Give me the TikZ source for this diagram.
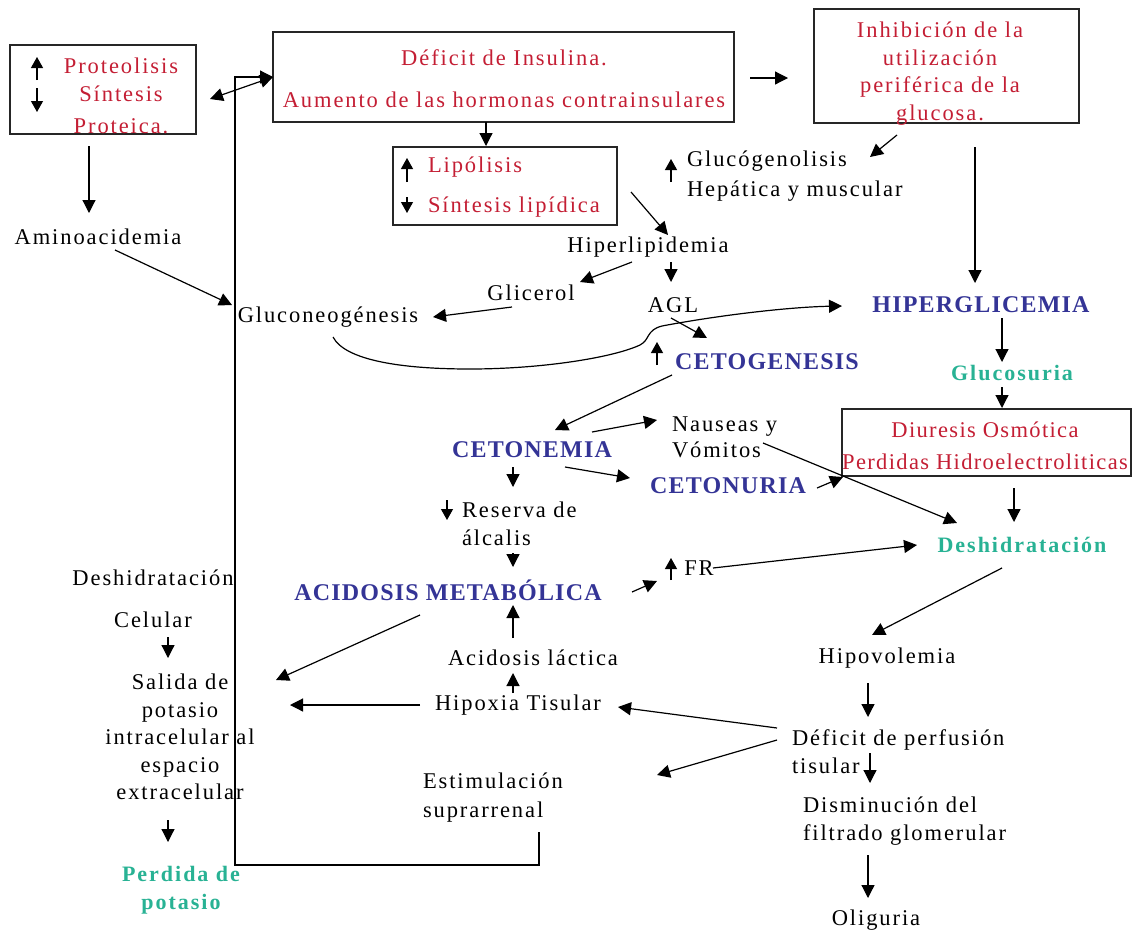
\documentclass[tikz,border=0pt]{standalone}
\usepackage{fontspec}
\setmainfont{Liberation Serif}[LetterSpace=8.5]
\newfontfamily\headfont{Liberation Serif}[LetterSpace=5]
\newfontfamily\tealfont{Liberation Serif}[LetterSpace=9]
\newfontfamily\tightfont{Liberation Serif}[LetterSpace=6]
\usetikzlibrary{arrows.meta,calc}
\definecolor{txtred}{RGB}{196,30,52}
\definecolor{txtblue}{RGB}{52,52,150}
\definecolor{txtteal}{RGB}{40,178,148}
\begin{document}
\begin{tikzpicture}[x=1pt,y=-1pt,
  every node/.style={inner sep=0pt,outer sep=0pt},
  boxframe/.style={draw=black!85,line width=1.3pt,minimum width=#1},
  txt/.style={font=\fontsize{22.5}{28}\selectfont,text=black},
  rtxt/.style={font=\fontsize{22.5}{28}\selectfont,text=txtred},
  btxt/.style={font=\headfont\bfseries\fontsize{24}{28}\selectfont,text=txtblue},
  gtxt/.style={font=\tealfont\bfseries\fontsize{22}{28}\selectfont,text=txtteal},
  arr/.style={line width=1.2pt,-{Triangle[length=13pt,width=13pt]}},
  darr/.style={line width=1.2pt,{Triangle[length=13pt,width=13pt]}-{Triangle[length=13pt,width=13pt]}},
  mk/.style={line width=1.2pt,-{Triangle[length=11pt,width=12pt]}}
]
\fill[white] (0,0) rectangle (1132,932);
\useasboundingbox (0,0) rectangle (1132,932);

% framed boxes
\node[boxframe=186pt,minimum height=89pt] (boxP) at (103,89.5) {};
\node[boxframe=461pt,minimum height=90pt] (boxI) at (503.5,77) {};
\node[boxframe=265pt,minimum height=114pt] (boxInh) at (946.5,66) {};
\node[boxframe=224pt,minimum height=78pt] (boxL) at (505,186) {};
\node[boxframe=289pt,minimum height=67pt] (boxD) at (986.5,442.5) {};

% texts inside the boxes
\node[rtxt,align=center] (pTxt) at (121,96) {Proteolisis\\Síntesis\\[4pt]Proteica.};
\node[rtxt,align=center,font=\fontsize{22.5}{42}\selectfont] (iTxt) at (504,79)
  {Déficit de Insulina.\\Aumento de las hormonas contrainsulares};
\node[rtxt,align=center,font=\fontsize{22.5}{27.7}\selectfont] (inhTxt) at (940,73.5)
  {Inhibición de la\\utilización\\periférica de la\\glucosa.};
\node[rtxt,align=left,anchor=west,font=\fontsize{22.5}{40}\selectfont] (lipoTxt) at (428,187)
  {Lipólisis\\Síntesis lipídica};
\node[rtxt,align=center,font=\tightfont\fontsize{22.5}{32}\selectfont] (dTxt) at (985,446)
  {Diuresis Osmótica\\Perdidas Hidroelectroliticas};

% free texts
\node[txt] (amino) at (98,237) {Aminoacidemia};
\node[txt] (gluco) at (328,317) {Gluconeogénesis};
\node[txt] (hiperl) at (648,247) {Hiperlipidemia};
\node[txt] (glic) at (531,293) {Glicerol};
\node[txt] (agl) at (673,305) {AGL};
\node[txt,align=left,anchor=west,font=\fontsize{22.5}{30}\selectfont] (glucog) at (687,176)
  {Glucógenolisis\\Hepática y muscular};
\node[btxt] (hiperg) at (981,305) {HIPERGLICEMIA};
\node[btxt] (ceto) at (767,362) {CETOGENESIS};
\node[gtxt] (glucos) at (1012,373) {Glucosuria};
\node[btxt] (cetonem) at (532,450) {CETONEMIA};
\node[txt,align=left,anchor=west,font=\fontsize{22.5}{26}\selectfont] (nause) at (672,437)
  {Nauseas y\\Vómitos};
\node[btxt] (cetonu) at (728,486) {CETONURIA};
\node[txt,align=left,anchor=west] (reserva) at (462,524) {Reserva de\\álcalis};
\node[gtxt] (deshT) at (1022,545) {Deshidratación};
\node[btxt] (acidM) at (448,590) {ACIDOSIS METABÓLICA};
\node[txt] (fr) at (699,568) {FR};
\node[txt,align=center,font=\fontsize{22.5}{42}\selectfont] (deshCel) at (153,599)
  {Deshidratación\\Celular};
\node[txt,align=center,font=\fontsize{22.5}{27.5}\selectfont] (salida) at (180,737)
  {Salida de\\potasio\\intracelular al\\espacio\\extracelular};
\node[gtxt,align=center] (perdida) at (181,890) {Perdida de\\potasio};
\node[txt] (acidL) at (533,658) {Acidosis láctica};
\node[txt] (hipox) at (518,705) {Hipoxia Tisular};
\node[txt] (hipov) at (887,658) {Hipovolemia};
\node[txt,align=left,anchor=west] (defic) at (792,752) {Déficit de perfusión\\tisular};
\node[txt,align=left,anchor=west,font=\fontsize{22.5}{29}\selectfont] (estim) at (423,798)
  {Estimulación\\suprarrenal};
\node[txt,align=left,anchor=west] (dismin) at (803,821) {Disminución del\\filtrado glomerular};
\node[txt] (olig) at (876,920) {Oliguria};

% up / down markers
\draw[mk] ($(boxP)+(-66,-9.5)$) -- ($(boxP)+(-66,-32.5)$);
\draw[mk] ($(boxP)+(-66,-1.5)$) -- ($(boxP)+(-66,22.5)$);
\draw[mk] ($(boxL)+(-98,-4)$) -- ($(boxL)+(-98,-28)$);
\draw[mk] ($(boxL)+(-98,11)$) -- ($(boxL)+(-98,27)$);
\draw[mk] ($(glucog.west)+(-16,6)$) -- ($(glucog.west)+(-16,-17)$);
\draw[mk] ($(ceto)+(-110,3)$) -- ($(ceto)+(-110,-20)$);
\draw[mk] ($(reserva.west)+(-15,-24)$) -- ($(reserva.west)+(-15,-4)$);
\draw[mk] ($(fr)+(-28,12)$) -- ($(fr)+(-28,-10)$);

% connectors
\draw[arr] ($(boxP)+(-14,56.5)$) -- ($(amino)+(-9,-24)$);
\draw[arr] ($(amino)+(17,13)$) -- ($(gluco)+(-96,-12)$);
\draw[darr] ($(boxP)+(107,9.5)$) -- (boxI.west);
\draw[arr] ($(estim.west)+(116,34)$) -- ++(0,33) -| ($(boxI.west)+(-38,0)$) -- (boxI.west);
\draw[arr] ($(boxI.east)+(16,1)$) -- ($(boxInh.west)+(-26,12)$);
\draw[arr] ($(boxI.south)+(-17.5,0)$) -- ($(boxL.north)+(-19,-1)$);
\draw[arr] ($(boxInh.south)+(-49.5,12)$) -- ($(glucog.west)+(183,-19)$);
\draw[arr] ($(boxInh.south)+(28.5,24)$) -- ($(hiperg)+(-6,-22)$);
\draw[arr] ($(boxL.east)+(14,6)$) -- ($(hiperl)+(20,-12)$);
\draw[arr] ($(hiperl)+(-16,15)$) -- ($(glic)+(49,-11)$);
\draw[arr] ($(hiperl)+(23,15)$) -- ($(agl)+(-2,-23)$);
\draw[arr] ($(glic)+(-19,14)$) -- ($(gluco)+(105,0)$);
\draw[arr] ($(agl)+(-2,13)$) -- ($(ceto)+(-60,-24)$);
\draw[arr] ($(gluco)+(5,20)$) .. controls (345,360) and (400,369) .. (470,369)
  .. controls (540,369) and (612,358) .. (640,345)
  .. controls (650,340) and (646,330) .. (662,326)
  .. controls (720,315) and (790,307) .. ($(hiperg)+(-139,1)$);
\draw[arr] ($(hiperg)+(21,13)$) -- ($(glucos)+(-10,-11)$);
\draw[arr] ($(glucos)+(-10,14)$) -- ($(boxD.north)+(15.5,-1)$);
\draw[arr] ($(ceto)+(-95,13)$) -- ($(cetonem)+(23,-20)$);
\draw[arr] ($(cetonem)+(60,-18)$) -- ($(nause.west)+(-15,-17)$);
\draw[arr] ($(nause.west)+(91,6)$) -- ($(deshT)+(-65,-22)$);
\draw[arr] ($(cetonem)+(33,17)$) -- ($(cetonu)+(-98,-8)$);
\draw[arr] ($(cetonu)+(89,2)$) -- ($(boxD.south west)+(1,1)$);
\draw[arr] ($(cetonem)+(-19,17)$) -- ($(reserva.west)+(51,-37)$);
\draw[arr] ($(boxD.south)+(27.5,12)$) -- ($(deshT)+(-8,-23)$);
\draw[arr] ($(reserva.west)+(51,29)$) -- ($(acidM)+(65,-23)$);
\draw[arr] ($(acidM)+(184,2)$) -- ($(fr)+(-42,13)$);
\draw[arr] ($(fr)+(14,0)$) -- ($(deshT)+(-105,0)$);
\draw[arr] ($(deshT)+(-20,23)$) -- ($(hipov)+(-15,-23)$);
\draw[arr] ($(hipov)+(-19,25)$) -- ($(defic.west)+(76,-35)$);
\draw[arr] ($(defic.west)+(-15,-24)$) -- ($(hipox)+(100,2)$);
\draw[arr] ($(defic.west)+(-15,-12)$) -- ($(estim.west)+(234,-23)$);
\draw[arr] ($(defic.west)+(78,1)$) -- ($(dismin.west)+(67,-38)$);
\draw[arr] ($(dismin.west)+(65,34)$) -- ($(olig)+(-8,-22)$);
\draw[arr] ($(hipox)+(-5,-12)$) -- ($(acidL)+(-20,15)$);
\draw[arr] ($(acidL)+(-20,-20)$) -- ($(acidM)+(65,15)$);
\draw[arr] ($(acidM)+(-28,25)$) -- ($(salida)+(96,-57)$);
\draw[arr] ($(hipox)+(-98,0)$) -- ($(salida)+(110,-32)$);
\draw[arr] ($(deshCel)+(15,38)$) -- ($(salida)+(-12,-79)$);
\draw[arr] ($(salida)+(-12,83)$) -- ($(perdida)+(-13,-48)$);
\end{tikzpicture}
\end{document}
